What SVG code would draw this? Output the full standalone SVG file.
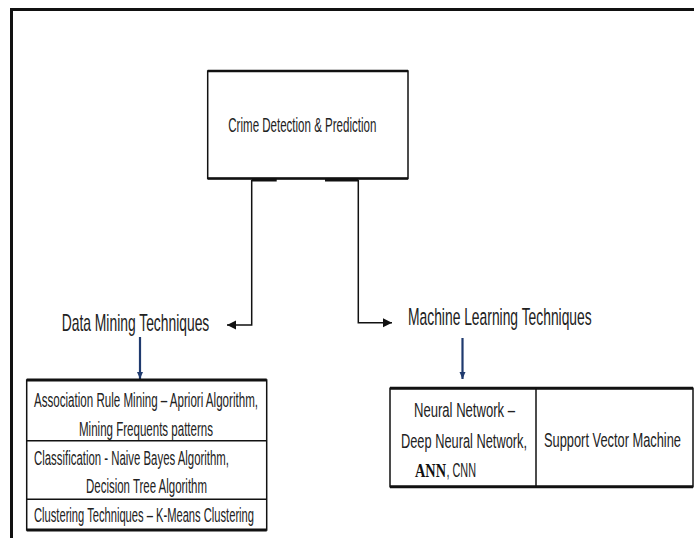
<svg xmlns="http://www.w3.org/2000/svg" width="694" height="538" viewBox="0 0 694 538">
<defs>
<style>
.t{font-family:"Liberation Sans",Arial,sans-serif;fill:#222;}
.tb{font-size:11.5px;}
.box{fill:#fff;stroke:#111;stroke-width:1.5;}
.thick{stroke:#111;stroke-width:3;fill:none;}
.con{stroke:#111;stroke-width:1.5;fill:none;}
.blue{stroke:#1f3a6e;stroke-width:2.2;fill:none;}
</style>
<marker id="ah" markerUnits="userSpaceOnUse" markerWidth="10" markerHeight="12" refX="9" refY="6" orient="auto">
<path d="M0,1.5 L9,6 L0,10.5 Z" fill="#111"/>
</marker>
<marker id="bh" markerUnits="userSpaceOnUse" markerWidth="8" markerHeight="8" refX="7" refY="4" orient="auto">
<path d="M0,1 L7,4 L0,7 Z" fill="#1f3a6e"/>
</marker>
</defs>
<rect width="694" height="538" fill="#fff"/>
<path d="M11.5,540 V9.5 H696" class="thick"/>

<g id="root">
<rect x="207.7" y="71" width="200.3" height="107.5" class="box"/>
<line x1="207.7" y1="71" x2="408" y2="71" stroke="#111" stroke-width="2.5"/>
<line x1="207.7" y1="178.5" x2="408" y2="178.5" stroke="#111" stroke-width="2.5"/>
<text class="t" transform="matrix(1,0,0,1.74,228.3,131.7)" font-size="11.5" textLength="148" lengthAdjust="spacingAndGlyphs">Crime Detection &amp; Prediction</text>
</g>

<g id="connectors">
<line x1="251.7" y1="180" x2="276.7" y2="180" class="thick"/>
<line x1="325" y1="180" x2="358.3" y2="180" class="thick"/>
<path d="M251.7,180 V325 H227" class="con" marker-end="url(#ah)"/>
<path d="M358.3,180 V322.7 H392" class="con" marker-end="url(#ah)"/>
<path d="M140,337 V379" class="blue" marker-end="url(#bh)"/>
<path d="M462.5,338 V379" class="blue" marker-end="url(#bh)"/>
</g>

<g id="data-mining">
<text class="t" transform="matrix(1,0,0,1.68,61.7,331)" font-size="13.7" textLength="147.6" lengthAdjust="spacingAndGlyphs">Data Mining Techniques</text>
</g>

<g id="machine-learning">
<text class="t" transform="matrix(1,0,0,1.74,408,325)" font-size="13.4" textLength="183.7" lengthAdjust="spacingAndGlyphs">Machine Learning Techniques</text>
</g>

<g id="dm-table">
<rect x="26.7" y="380" width="240" height="150" class="box"/>
<line x1="26.7" y1="380" x2="266.7" y2="380" stroke="#111" stroke-width="3"/>
<line x1="26.7" y1="530" x2="266.7" y2="530" stroke="#111" stroke-width="3"/>
<line x1="26.7" y1="440.7" x2="266.7" y2="440.7" stroke="#111" stroke-width="1.5"/>
<line x1="26.7" y1="499.3" x2="266.7" y2="499.3" stroke="#111" stroke-width="1.5"/>
<text class="t tb" transform="matrix(1,0,0,1.76,34,407)" textLength="224" lengthAdjust="spacingAndGlyphs">Association Rule Mining – Apriori Algorithm,</text>
<text class="t tb" transform="matrix(1,0,0,1.76,79,436)" textLength="134" lengthAdjust="spacingAndGlyphs">Mining Frequents patterns</text>
<text class="t tb" transform="matrix(1,0,0,1.76,34,465)" textLength="195" lengthAdjust="spacingAndGlyphs">Classification -  Naive Bayes Algorithm,</text>
<text class="t tb" transform="matrix(1,0,0,1.76,86,493)" textLength="121" lengthAdjust="spacingAndGlyphs">Decision Tree Algorithm</text>
<text class="t tb" transform="matrix(1,0,0,1.76,34,522)" textLength="220" lengthAdjust="spacingAndGlyphs">Clustering Techniques – K-Means Clustering</text>
</g>

<g id="ml-table">
<rect x="390" y="388.3" width="303" height="98.4" class="box"/>
<line x1="390" y1="388.3" x2="693" y2="388.3" stroke="#111" stroke-width="3"/>
<line x1="390" y1="486.7" x2="693" y2="486.7" stroke="#111" stroke-width="3"/>
<line x1="536" y1="388.3" x2="536" y2="486.7" stroke="#111" stroke-width="1.5"/>
<text class="t tb" transform="matrix(1,0,0,1.76,414,416.5)" textLength="101" lengthAdjust="spacingAndGlyphs">Neural Network –</text>
<text class="t tb" transform="matrix(1,0,0,1.76,401,447.5)" textLength="126" lengthAdjust="spacingAndGlyphs">Deep Neural Network,</text>
<text transform="matrix(1,0,0,1.33,415,477.3)" font-size="14" font-weight="bold" font-family="'Liberation Serif','Times New Roman',serif" fill="#111" textLength="31" lengthAdjust="spacingAndGlyphs">ANN</text>
<text class="t tb" transform="matrix(1,0,0,1.76,446.5,477.3)" textLength="29.5" lengthAdjust="spacingAndGlyphs">, CNN</text>
<text class="t tb" transform="matrix(1,0,0,1.76,544,446.7)" textLength="137" lengthAdjust="spacingAndGlyphs">Support Vector Machine</text>
</g>
</svg>
